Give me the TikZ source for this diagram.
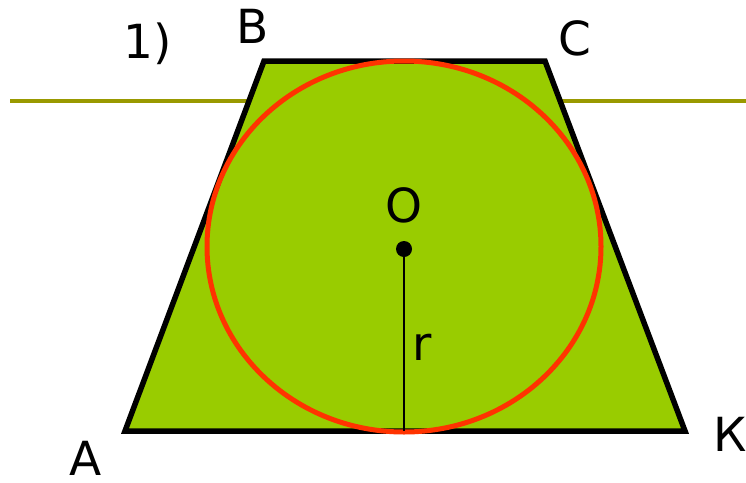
\documentclass[tikz,border=0pt]{standalone}
\usepackage{fontspec}
\setmainfont{DejaVu Sans}
\usepackage{xcolor}
\usetikzlibrary{positioning}

\definecolor{trapgreen}{HTML}{99CC00}
\definecolor{incircle}{HTML}{FF3300}
\definecolor{midline}{HTML}{999900}

\begin{document}
\begin{tikzpicture}[
        x=1pt, y=-1pt,
        lbl/.style={anchor=base, inner sep=0pt, font=\fontsize{47}{50}\selectfont},
        side/.style={draw=black, line width=5.5pt, fill=trapgreen, line join=miter},
        ring/.style={draw=incircle, line width=5pt},
    ]
        \useasboundingbox (0,0) rectangle (746,482);

        \coordinate (A) at (125,431);
        \coordinate (B) at (264,61);
        \coordinate (C) at (545,61);
        \coordinate (K) at (685,431);
        \coordinate (O) at (404,249);
        \coordinate (H) at (404,431);
        \coordinate (m1) at (10,101);
        \coordinate (m2) at (746,101);

        \draw[midline, line width=3.5pt] (m1) -- (m2);
        \draw[side] (A) -- (B) -- (C) -- (K) -- cycle;
        \draw[ring] (404,246.5) ellipse [x radius=197, y radius=185.5];
        \draw[line width=2pt] (O) -- (H);
        \fill (O) circle [radius=8];

        \node[lbl] (n1) at (148,58) {1)};
        \node[lbl] (lB) at (253,43) {В};
        \node[lbl] (lC) at (575,55) {С};
        \node[lbl] (lO) at (404,222) {O};
        \node[lbl] (lr) at (422,360) {r};
        \node[lbl] (lA) at (86,475) {А};
        \node[lbl] (lK) at (730,451) {К};
    \end{tikzpicture}
\end{document}
